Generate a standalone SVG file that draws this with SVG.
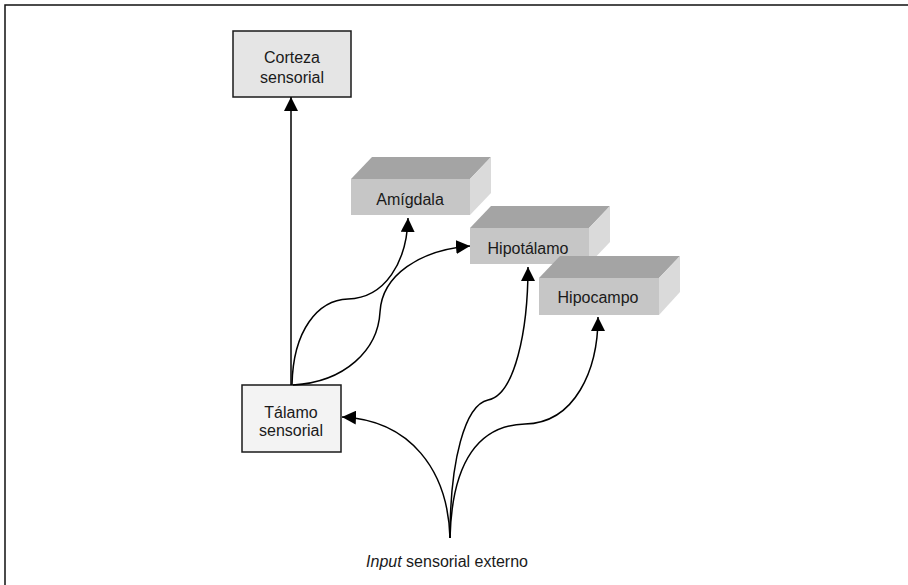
<svg xmlns="http://www.w3.org/2000/svg" width="908" height="585" viewBox="0 0 908 585">
  <style>
    .lbl { font-family: "Liberation Sans", Arial, sans-serif; font-size: 16px; fill: #1a1a1a; text-anchor: middle; }
    .flat { stroke: #1a1a1a; stroke-width: 1.5; }
    .front { fill: #c6c6c6; }
    .top { fill: #a4a4a4; }
    .side { fill: #dadada; }
    .wire { fill: none; stroke: #000; stroke-width: 1.5; marker-end: url(#head); }
  </style>
  <defs>
    <marker id="head" markerUnits="userSpaceOnUse" markerWidth="15" markerHeight="14" refX="14" refY="7" orient="auto">
      <path d="M0,0 L14,7 L0,14 z" fill="#000"/>
    </marker>
  </defs>

  <rect width="908" height="585" fill="#fff"/>
  <!-- frame -->
  <rect x="5" y="5" width="920" height="600" fill="none" stroke="#111" stroke-width="1.5"/>

  <g id="corteza">
    <rect class="flat" x="233" y="31" width="118" height="66" fill="#e5e5e5"/>
    <text class="lbl" x="292" y="63">Corteza</text>
    <text class="lbl" x="292" y="83">sensorial</text>
  </g>

  <g id="talamo">
    <rect class="flat" x="242" y="385" width="99" height="67" fill="#f3f3f3"/>
    <text class="lbl" x="291" y="418">Tálamo</text>
    <text class="lbl" x="291" y="436">sensorial</text>
  </g>

  <g id="amigdala">
    <polygon class="top" points="351,179 372,157 491,157 470,179"/>
    <polygon class="side" points="470,179 491,157 491,193 470,215"/>
    <rect class="front" x="351" y="179" width="119" height="36"/>
    <text class="lbl" x="410" y="205">Amígdala</text>
  </g>

  <g id="hipotalamo">
    <polygon class="top" points="470,228 491,206 610,206 589,228"/>
    <polygon class="side" points="589,228 610,206 610,242 589,264"/>
    <rect class="front" x="470" y="228" width="119" height="36"/>
    <text class="lbl" x="528" y="254">Hipotálamo</text>
  </g>

  <g id="hipocampo">
    <polygon class="top" points="539,278 560,256 680,256 659,278"/>
    <polygon class="side" points="659,278 680,256 680,292 659,315"/>
    <rect class="front" x="539" y="278" width="120" height="37"/>
    <text class="lbl" x="598" y="303">Hipocampo</text>
  </g>

  <g id="input">
    <text class="lbl" x="447" y="567"><tspan font-style="italic">Input</tspan>  sensorial externo</text>
  </g>

  <g id="connectors">
    <line class="wire" x1="291" y1="385" x2="291" y2="97"/>
    <path class="wire" d="M292,385 C293,330 318,300 348,299 C385,298 407,262 408,218"/>
    <path class="wire" d="M293,385 C345,382 378,350 380,312 C382,275 420,250 470,246"/>
    <path class="wire" d="M450,538 C448,470 410,420 342,417"/>
    <path class="wire" d="M450,538 C450,460 465,405 488,400 C515,395 528,330 528,267"/>
    <path class="wire" d="M450,538 C452,460 480,425 525,424 C575,423 598,370 598,317"/>
  </g>
</svg>
